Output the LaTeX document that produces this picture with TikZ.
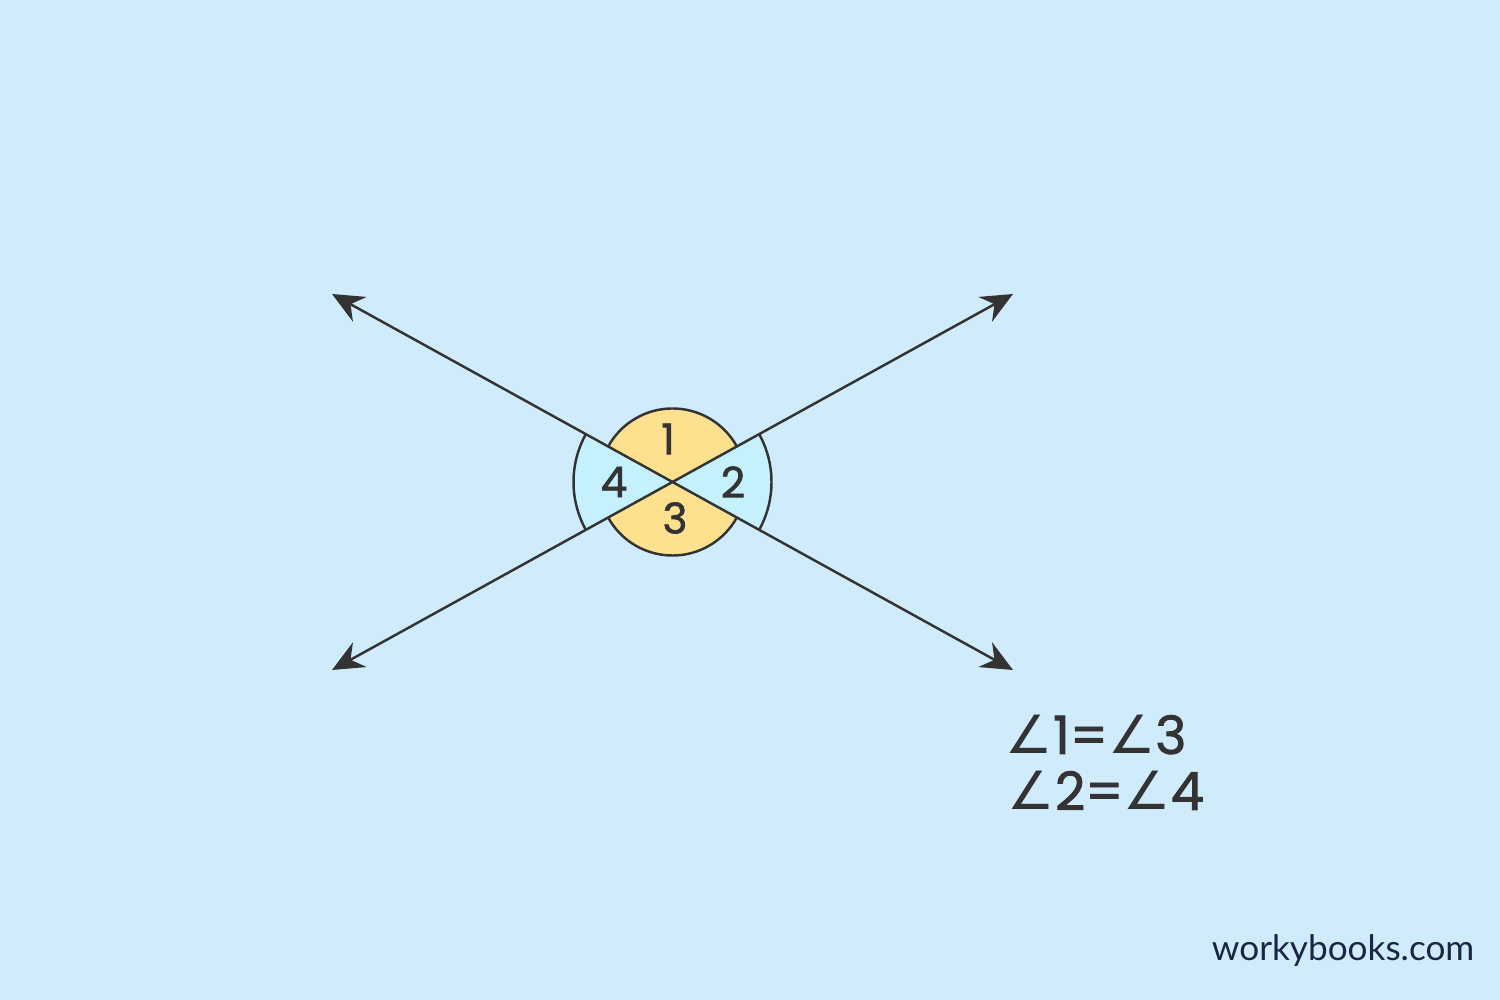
\documentclass[tikz,border=0pt]{standalone}
\usepackage{fontspec}
\usepackage{tikz}
\usepackage{xcolor}
\setmainfont{Poppins}
\newfontfamily\numfont{Poppins}[FakeBold=1.6]
\newfontfamily\symfont{DejaVu Sans}
\newfontfamily\sitefont{Lato}
\newcommand{\Ang}{{\symfont\symbol{"2220}}}
\definecolor{bgblue}{RGB}{208,236,252}
\definecolor{sectorblue}{RGB}{197,240,253}
\definecolor{sectoryellow}{RGB}{253,225,143}
\definecolor{inkgray}{RGB}{51,51,51}
\definecolor{sitenavy}{RGB}{27,37,72}
\usetikzlibrary{arrows.meta}

\begin{document}
\begin{tikzpicture}[x=0.01cm,y=0.01cm,
  lineline/.style={draw=inkgray,line width=0.7pt,{Stealth[length=9pt,width=8pt,inset=3pt]}-{Stealth[length=9pt,width=8pt,inset=3pt]}},
  arcline/.style={draw=inkgray,line width=0.7pt},
  anglabel/.style={text=inkgray,font=\numfont\fontsize{12}{14}\selectfont},
  eqlabel/.style={text=inkgray,font=\numfont\fontsize{15}{18}\selectfont,anchor=base west,inner sep=0pt}]
\fill[bgblue] (0,0) rectangle (1500,1000);
\coordinate (O) at (672.5,518);
\coordinate (UL) at (332,706);
\coordinate (LR) at (1013,330);
\coordinate (LL) at (332,330);
\coordinate (UR) at (1013,706);
% blue sectors
\fill[sectorblue] (O) -- ++(-28.9:99) arc (-28.9:28.9:99) -- cycle;
\fill[sectorblue] (O) -- ++(151.1:99) arc (151.1:208.9:99) -- cycle;
\draw[arcline] (O) ++(-28.9:99) arc (-28.9:28.9:99);
\draw[arcline] (O) ++(151.1:99) arc (151.1:208.9:99);
% yellow sectors
\fill[sectoryellow] (O) -- ++(28.9:73.5) arc (28.9:151.1:73.5) -- cycle;
\fill[sectoryellow] (O) -- ++(208.9:73.5) arc (208.9:331.1:73.5) -- cycle;
\draw[arcline] (O) ++(28.9:73.5) arc (28.9:151.1:73.5);
\draw[arcline] (O) ++(208.9:73.5) arc (208.9:331.1:73.5);
% the two lines
\draw[lineline] (UL) -- (LR);
\draw[lineline] (LL) -- (UR);
\node[anglabel] (a1) at (668,561) {1};
\node[anglabel] (a2) at (733,518) {2};
\node[anglabel] (a3) at (675,482) {3};
\node[anglabel] (a4) at (614,518) {4};
\node[eqlabel] (eq1) at (1005,246) {\Ang1=\Ang3};
\node[eqlabel] (eq2) at (1007,190) {\Ang2=\Ang4};
\node[text=sitenavy,font=\sitefont\fontsize{10}{12}\selectfont,anchor=base east,inner sep=0pt] (site) at (1475,40) {workybooks.com};
\end{tikzpicture}
\end{document}
